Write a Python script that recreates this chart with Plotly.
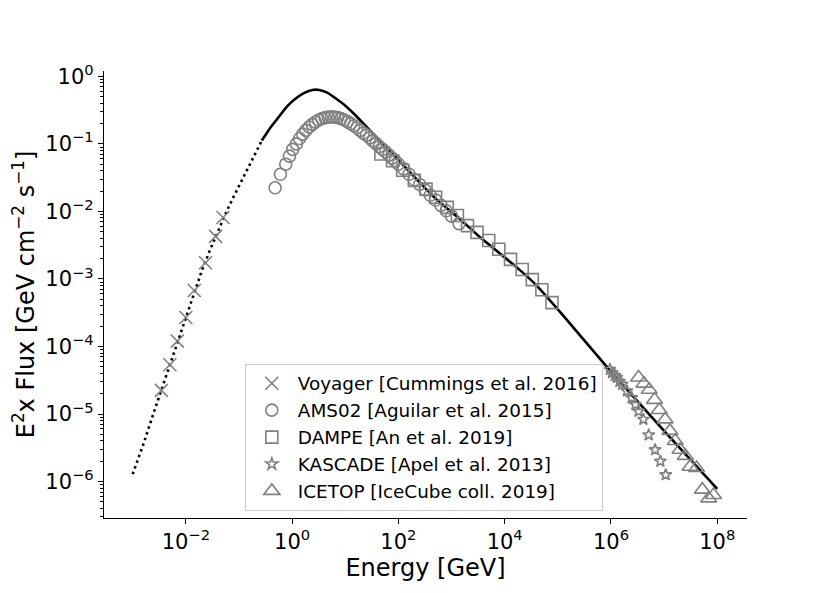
import numpy as np
import plotly.graph_objects as go

voyager_loge = [-2.46, -2.30, -2.16, -2.00, -1.84, -1.63, -1.44, -1.30]
voyager_logf = [-4.65, -4.27, -3.92, -3.57, -3.17, -2.76, -2.37, -2.09]

ams_loge = [-0.32, -0.22, -0.12, -0.05, 0.01, 0.08, 0.14, 0.20, 0.26, 0.32, 0.38,
            0.44, 0.50, 0.56, 0.62, 0.68, 0.74, 0.80, 0.86, 0.92, 0.98, 1.04,
            1.10, 1.16, 1.22, 1.28, 1.34, 1.40, 1.46, 1.52, 1.58, 1.64, 1.70,
            1.76, 1.82, 1.88, 1.94, 2.00, 2.10, 2.20, 2.30, 2.40, 2.50, 2.60,
            2.70, 2.80, 2.90, 3.00, 3.14]
ams_logf = [-1.65, -1.45, -1.30, -1.18, -1.08, -1.00, -0.92, -0.855, -0.80, -0.75, -0.71,
            -0.675, -0.645, -0.625, -0.61, -0.603, -0.60, -0.603, -0.61, -0.625, -0.645, -0.67,
            -0.70, -0.73, -0.76, -0.80, -0.84, -0.87, -0.91, -0.955, -0.995, -1.04, -1.08,
            -1.12, -1.165, -1.21, -1.25, -1.30, -1.37, -1.45, -1.53, -1.60, -1.68, -1.76,
            -1.83, -1.91, -1.99, -2.07, -2.18]

dampe_loge = [1.67, 1.89, 2.08, 2.30, 2.52, 2.70, 2.92, 3.11, 3.30, 3.48, 3.70,
              3.89, 4.11, 4.33, 4.52, 4.70, 4.89]
dampe_logf = [-1.15, -1.25, -1.39, -1.54, -1.67, -1.79, -1.94, -2.06, -2.21, -2.31, -2.43,
              -2.56, -2.71, -2.86, -3.01, -3.16, -3.35]

kascade_loge = [5.98, 6.02, 6.07, 6.11, 6.16, 6.21, 6.30, 6.39, 6.46, 6.52, 6.61, 6.71, 6.83, 6.93, 7.03]
kascade_logf = [-4.34, -4.39, -4.43, -4.46, -4.52, -4.56, -4.66, -4.76, -4.86, -4.96, -5.08, -5.31, -5.53, -5.70, -5.90]

icetop_loge = [6.52, 6.62, 6.72, 6.82, 6.91, 7.02, 7.11, 7.21, 7.30, 7.40, 7.49, 7.61, 7.72, 7.84, 7.93]
icetop_logf = [-4.46, -4.55, -4.64, -4.79, -4.94, -5.08, -5.25, -5.40, -5.53, -5.62, -5.78, -5.80, -6.12, -6.25, -6.20]

# model curve: dotted part below ~0.27 GeV, solid above
model_low_loge = [-3.0, -2.8, -2.6, -2.45, -2.3, -2.15, -2.0, -1.85, -1.7, -1.55, -1.4,
                  -1.25, -1.1, -0.95, -0.8, -0.68, -0.57]
model_low_logf = [-5.89, -5.45, -4.97, -4.62, -4.27, -3.90, -3.56, -3.20, -2.88, -2.58, -2.30,
                  -2.03, -1.78, -1.54, -1.31, -1.12, -0.95]
model_high_loge = [-0.57, -0.40, -0.24, -0.09, 0.08, 0.23, 0.38, 0.51, 0.66, 0.81, 0.98,
                   1.21, 1.50, 1.80, 2.10, 2.40, 2.70, 3.14, 3.52, 3.83, 4.20, 4.58,
                   5.11, 6.02, 7.00, 8.00]
model_high_logf = [-0.95, -0.75, -0.59, -0.44, -0.32, -0.245, -0.20, -0.20, -0.24, -0.32, -0.42,
                   -0.59, -0.83, -1.07, -1.32, -1.57, -1.81, -2.10, -2.37, -2.57, -2.81, -3.08,
                   -3.55, -4.39, -5.25, -6.11]

x_tick_exp = [-2, 0, 2, 4, 6, 8]
y_tick_exp = [-6, -5, -4, -3, -2, -1, 0]


def p10(v):
    return np.power(10.0, np.array(v, dtype=float))


def sup_label(e):
    return "10<sup>" + ("\u2212" if e < 0 else "") + str(abs(e)) + "</sup>"


GREY = "#808080"
FONT = "DejaVu Sans"

fig = go.Figure()

fig.add_trace(go.Scatter(x=p10(model_low_loge), y=p10(model_low_logf), mode="lines",
                         line=dict(color="black", width=2.6, dash="2.5px,3.5px"),
                         showlegend=False, hoverinfo="skip"))
fig.add_trace(go.Scatter(x=p10(model_high_loge), y=p10(model_high_logf), mode="lines",
                         line=dict(color="black", width=2.6, shape="spline", smoothing=0.5),
                         showlegend=False, hoverinfo="skip"))

series = [
    ("Voyager [Cummings et al. 2016]", voyager_loge, voyager_logf, "x-thin-open", 13),
    ("AMS02 [Aguilar et al. 2015]", ams_loge, ams_logf, "circle-open", 12),
    ("DAMPE [An et al. 2019]", dampe_loge, dampe_logf, "square-open", 12),
    ("KASCADE [Apel et al. 2013]", kascade_loge, kascade_logf, "star-open", 9),
    ("ICETOP [IceCube coll. 2019]", icetop_loge, icetop_logf, "triangle-up-open", 14),
]
for name, le, lf, sym, size in series:
    fig.add_trace(go.Scatter(x=p10(le), y=p10(lf), mode="markers", name=name,
                             marker=dict(symbol=sym, size=size, color=GREY,
                                         line=dict(color=GREY, width=1.6))))

minor_vals = [m * 10.0 ** e for e in range(-7, 1) for m in range(2, 10)]

# the page body adds 8px on the left/top, so the figure is made 8px smaller
fig.update_layout(
    width=822, height=585,
    margin=dict(l=96, r=83, t=63, b=75),
    paper_bgcolor="white", plot_bgcolor="white",
    font=dict(family=FONT, color="black"),
    xaxis=dict(type="log", range=[-3.54, 8.56],
               tickvals=[10.0 ** e for e in x_tick_exp],
               ticktext=[sup_label(e) for e in x_tick_exp],
               showline=True, linecolor="black", linewidth=1.2,
               ticks="outside", ticklen=5, tickwidth=1.2, tickcolor="black",
               showgrid=False, zeroline=False, tickfont=dict(size=21),
               title=dict(text="Energy [GeV]", font=dict(size=24), standoff=4)),
    yaxis=dict(type="log", range=[-6.54, 0.08],
               tickvals=[10.0 ** e for e in y_tick_exp],
               ticktext=[sup_label(e) for e in y_tick_exp],
               showline=True, linecolor="black", linewidth=1.2,
               ticks="outside", ticklen=5, tickwidth=1.2, tickcolor="black",
               minor=dict(tickvals=minor_vals, ticks="outside", ticklen=3,
                          tickwidth=1, tickcolor="black", showgrid=False),
               showgrid=False, zeroline=False, tickfont=dict(size=21),
               title=dict(text="E<sup>2</sup>x Flux [GeV cm<sup>\u22122</sup> s<sup>\u22121</sup>]",
                          font=dict(size=24), standoff=4)),
    legend=dict(x=0.219, y=0.345, xanchor="left", yanchor="top",
                bgcolor="white", bordercolor="#cccccc", borderwidth=1,
                itemwidth=42, font=dict(size=18.4, family=FONT)),
)

fig.write_html("out.html")
